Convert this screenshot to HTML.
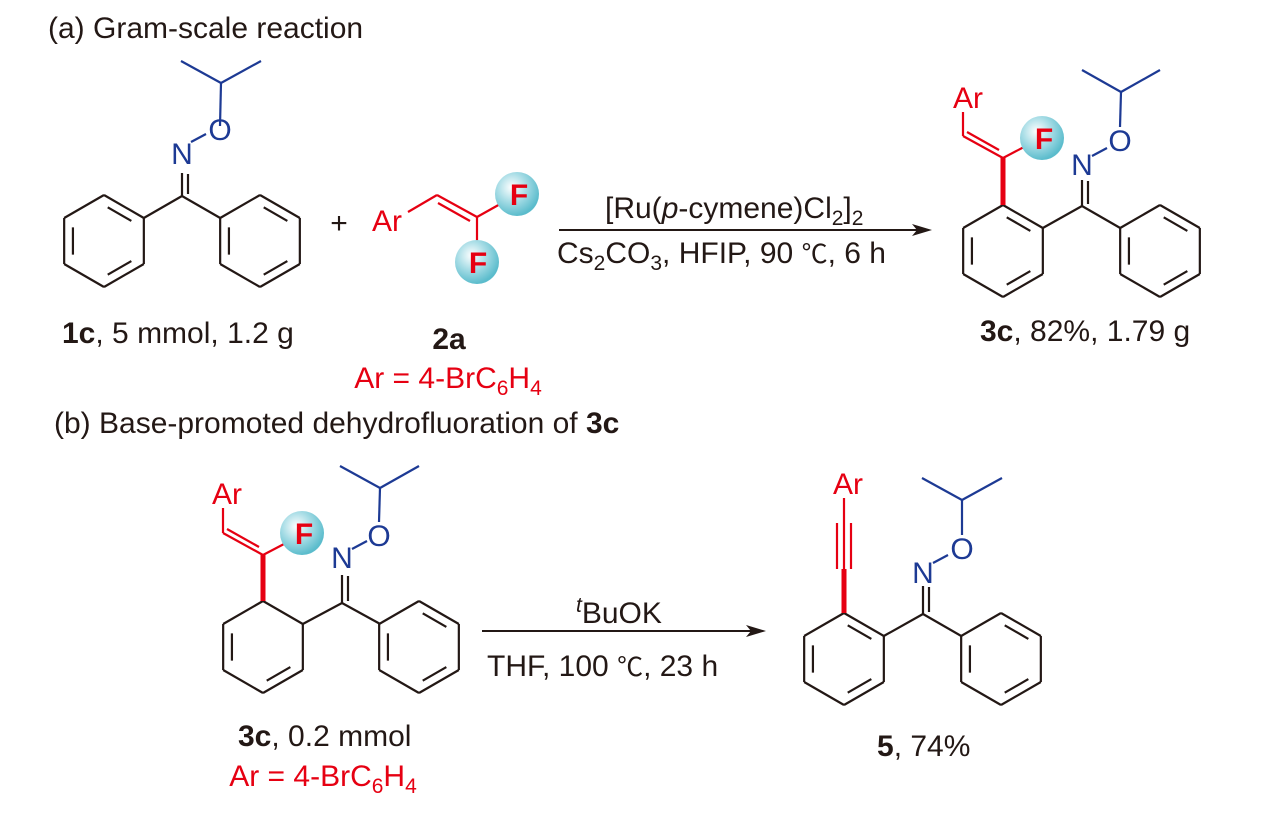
<!DOCTYPE html>
<html><head><meta charset="utf-8"><style>
html,body{margin:0;padding:0;background:#fff;}
svg{display:block;}
text{font-family:"Liberation Sans",Arial,sans-serif;font-size:30px;}
.k{fill:#231815}.r{fill:#e60012}.b{fill:#1d3a94}
.cj{font-family:"Noto Sans CJK SC","WenQuanYi Zen Hei",sans-serif;font-size:26px;}
</style></head><body>
<svg id="s" width="1284" height="818" viewBox="0 0 1284 818" xmlns="http://www.w3.org/2000/svg">
<defs>
<radialGradient id="g" cx="0.38" cy="0.35" r="0.65">
<stop offset="0" stop-color="#ffffff"/><stop offset="0.5" stop-color="#a8dde6"/><stop offset="1" stop-color="#5bbccc"/>
</radialGradient>
</defs>
<g id="lines" fill="none" stroke-linecap="butt"></g>
<circle cx="517" cy="194" r="22" fill="url(#g)"/>
<circle cx="477" cy="262" r="22" fill="url(#g)"/>
<circle cx="1042" cy="138" r="22" fill="url(#g)"/>
<circle cx="302" cy="533" r="22" fill="url(#g)"/>

<text x="48" y="38" class="k">(a) Gram-scale reaction</text>
<text x="54" y="433" class="k">(b) Base-promoted dehydrofluoration of <tspan font-weight="bold">3c</tspan></text>

<text x="182" y="164" class="b" text-anchor="middle">N</text>
<text x="220" y="140" class="b" text-anchor="middle">O</text>
<text x="339" y="233" class="k" text-anchor="middle">+</text>
<text x="387" y="231" class="r" text-anchor="middle">Ar</text>
<text x="519" y="205" class="r" text-anchor="middle" font-weight="bold">F</text>
<text x="478" y="273" class="r" text-anchor="middle" font-weight="bold">F</text>
<text x="62" y="343" class="k"><tspan font-weight="bold">1c</tspan>, 5 mmol, 1.2 g</text>
<text x="449" y="349" class="k" text-anchor="middle" font-weight="bold">2a</text>
<text x="448" y="388" class="r" text-anchor="middle">Ar = 4-BrC<tspan font-size="21" dy="7">6</tspan><tspan dy="-7">H</tspan><tspan font-size="21" dy="7">4</tspan></text>

<text x="605" y="218" class="k">[Ru(<tspan font-style="italic">p</tspan>-cymene)Cl<tspan font-size="21" dy="7">2</tspan><tspan dy="-7">]</tspan><tspan font-size="21" dy="7">2</tspan></text>
<text x="557" y="263" class="k">Cs<tspan font-size="21" dy="7">2</tspan><tspan dy="-7">CO</tspan><tspan font-size="21" dy="7">3</tspan><tspan dy="-7">, HFIP, 90 </tspan><tspan class="cj">℃</tspan>, 6 h</text>

<text x="968" y="108" class="r" text-anchor="middle">Ar</text>
<text x="1044" y="149" class="r" text-anchor="middle" font-weight="bold">F</text>
<text x="1082" y="175" class="b" text-anchor="middle">N</text>
<text x="1120" y="151" class="b" text-anchor="middle">O</text>
<text x="980" y="341" class="k"><tspan font-weight="bold">3c</tspan>, 82%, 1.79 g</text>

<text x="227" y="504" class="r" text-anchor="middle">Ar</text>
<text x="304" y="544" class="r" text-anchor="middle" font-weight="bold">F</text>
<text x="342" y="568" class="b" text-anchor="middle">N</text>
<text x="379" y="546" class="b" text-anchor="middle">O</text>
<text x="238" y="746" class="k"><tspan font-weight="bold">3c</tspan>, 0.2 mmol</text>
<text x="323" y="786" class="r" text-anchor="middle">Ar = 4-BrC<tspan font-size="21" dy="7">6</tspan><tspan dy="-7">H</tspan><tspan font-size="21" dy="7">4</tspan></text>

<text x="576" y="623" class="k"><tspan font-style="italic" font-size="21" dy="-11">t</tspan><tspan dy="11">BuOK</tspan></text>
<text x="487" y="676" class="k">THF, 100 <tspan class="cj">℃</tspan>, 23 h</text>

<text x="848" y="494" class="r" text-anchor="middle">Ar</text>
<text x="923" y="583" class="b" text-anchor="middle">N</text>
<text x="962" y="559" class="b" text-anchor="middle">O</text>
<text x="877" y="756" class="k"><tspan font-weight="bold">5</tspan>, 74%</text>
</svg>
<script>
var G=document.getElementById('lines'),NS='http://www.w3.org/2000/svg';
function L(x1,y1,x2,y2,c,w){var l=document.createElementNS(NS,'line');l.setAttribute('x1',x1);l.setAttribute('y1',y1);l.setAttribute('x2',x2);l.setAttribute('y2',y2);l.setAttribute('stroke',c||'#231815');l.setAttribute('stroke-width',w||2.2);G.appendChild(l);}
function ring(cx,cy,dbl,r){r=r||46;var p=[];for(var k=0;k<6;k++){var a=(-90+60*k)*Math.PI/180;p.push([cx+r*Math.cos(a),cy+r*Math.sin(a)]);}
for(var k=0;k<6;k++){var a=p[k],b=p[(k+1)%6];L(a[0],a[1],b[0],b[1]);}
dbl.forEach(function(k){var a=p[k],b=p[(k+1)%6];var s=0.78;var ia=[cx+(a[0]-cx)*s,cy+(a[1]-cy)*s],ib=[cx+(b[0]-cx)*s,cy+(b[1]-cy)*s];
var t=0.12;L(ia[0]+(ib[0]-ia[0])*t,ia[1]+(ib[1]-ia[1])*t,ib[0]-(ib[0]-ia[0])*t,ib[1]-(ib[1]-ia[1])*t);});}
var B='#1d3a94',R='#e60012';
ring(104,241,[0,2,4]);ring(260,241,[0,2,4]);
L(182,196,143.8,218);L(182,196,220.2,218);
L(182,196,182,173);L(188,194,188,174);
L(191,142,206,134,B);L(220,126,221,83,B);L(221,83,181,61,B);L(221,83,261,61,B);
L(408,212,437,195,R);L(437,195,477,217,R);L(438,203,470,221,R);L(477,217,502,203,R);L(477,217,477,244,R);
L(559,230,918,230,'#231815',2);
ring(1003,251,[0,2,4]);ring(1160,251,[0,2,4]);
L(1003,205,1003,158,R,5);L(1003,158,963,136,R);L(999,150,967,132,R);L(963,136,963,112,R);L(1003,158,1024,147,R);
L(1082,206,1042.8,228);L(1082,206,1120.2,228);L(1082,206,1082,180);L(1088,204,1088,181);
L(1092,156,1107,148,B);L(1120,127,1121,92,B);L(1121,92,1082,70,B);L(1121,92,1160,70,B);
ring(263,647,[2,4]);ring(419,647,[0,2,4]);
L(263,601,263,555,R,5);L(263,555,223,533,R);L(259,547,227,529,R);L(223,533,223,508,R);L(263,555,284,544,R);
L(342,603,302.8,624);L(342,603,380.2,624);L(342,603,342,575);L(348,601,348,576);
L(352,549,367,541,B);L(379,522,380,488,B);L(380,488,340,466,B);L(380,488,419,466,B);
L(482,631,752,631,'#231815',2);
ring(844,659,[0,2,4]);ring(1001,659,[0,2,4]);
L(844,613,844,569,R,5);L(844,569,844,498,R);L(837,569,837,523,R);L(851,569,851,523,R);
L(923,614,883.8,636);L(923,614,961.2,636);L(923,614,923,586);L(929,612,929,587);
L(933,563,948,555,B);L(962,535,962,500,B);L(962,500,922,478,B);L(962,500,1002,478,B);
function head(x,y){var p=document.createElementNS(NS,'polygon');p.setAttribute('points',(x)+','+y+' '+(x-20)+','+(y-6)+' '+(x-15)+','+y+' '+(x-20)+','+(y+6));p.setAttribute('fill','#231815');G.appendChild(p);}
head(932,230);head(766,631);
</script>
</body></html>
